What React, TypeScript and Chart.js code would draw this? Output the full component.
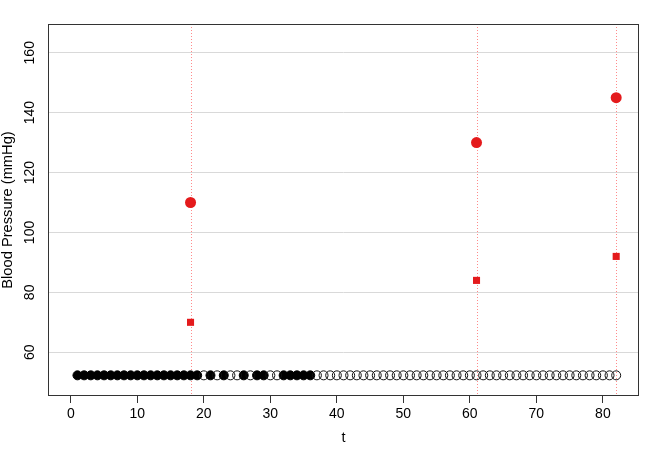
import React, { useEffect, useRef } from "react";
import { Chart, registerables } from "chart.js";

Chart.register(...registerables);

// ---- data ----
const timePoints = [
  1, 2, 3, 4, 5, 6, 7, 8, 9, 10, 11, 12, 13, 14, 15, 16, 17, 18, 19, 20,
  21, 22, 23, 24, 25, 26, 27, 28, 29, 30, 31, 32, 33, 34, 35, 36, 37, 38, 39, 40,
  41, 42, 43, 44, 45, 46, 47, 48, 49, 50, 51, 52, 53, 54, 55, 56, 57, 58, 59, 60,
  61, 62, 63, 64, 65, 66, 67, 68, 69, 70, 71, 72, 73, 74, 75, 76, 77, 78, 79, 80,
  81, 82,
];
// 1 = filled marker, 0 = open marker
const measuredFlag = [
  1, 1, 1, 1, 1, 1, 1, 1, 1, 1, 1, 1, 1, 1, 1, 1, 1, 1, 1, 0,
  1, 0, 1, 0, 0, 1, 0, 1, 1, 0, 0, 1, 1, 1, 1, 1, 0, 0, 0, 0,
  0, 0, 0, 0, 0, 0, 0, 0, 0, 0, 0, 0, 0, 0, 0, 0, 0, 0, 0, 0,
  0, 0, 0, 0, 0, 0, 0, 0, 0, 0, 0, 0, 0, 0, 0, 0, 0, 0, 0, 0,
  0, 0,
];
const baselineLevel = 52.3;

const eventTimes = [18, 61, 82];
const systolicBP = [110, 130, 145];
const diastolicBP = [70, 84, 92];

const xTicks = [0, 10, 20, 30, 40, 50, 60, 70, 80];
const yTicks = [60, 80, 100, 120, 140, 160];

const xLabel = "t";
const yLabel = "Blood Pressure (mmHg)";

const FONT = "'Liberation Sans', Arial, Helvetica, sans-serif";
const RED = "#E41A1C";

const decorPlugin = {
  id: "decor",
  beforeDatasetsDraw(chart: any) {
    const { ctx, chartArea, scales } = chart;
    ctx.save();
    ctx.strokeStyle = "rgba(255,60,60,0.6)";
    ctx.lineWidth = 1;
    ctx.setLineDash([1, 2]);
    eventTimes.forEach((t) => {
      const x = Math.round(scales.x.getPixelForValue(t)) + 0.5;
      ctx.beginPath();
      ctx.moveTo(x, chartArea.top);
      ctx.lineTo(x, chartArea.bottom);
      ctx.stroke();
    });
    ctx.restore();
  },
  afterDraw(chart: any) {
    const { ctx, chartArea, scales } = chart;
    ctx.save();
    // box
    ctx.strokeStyle = "#333";
    ctx.lineWidth = 1;
    ctx.strokeRect(
      Math.round(chartArea.left) - 0.5,
      Math.round(chartArea.top) + 0.5,
      Math.round(chartArea.right - chartArea.left) + 1,
      Math.round(chartArea.bottom - chartArea.top) - 1
    );
    // y tick labels (rotated)
    ctx.fillStyle = "#000";
    ctx.font = `14px ${FONT}`;
    ctx.textAlign = "center";
    ctx.textBaseline = "middle";
    yTicks.forEach((v) => {
      const y = scales.y.getPixelForValue(v);
      ctx.save();
      ctx.translate(30, y);
      ctx.rotate(-Math.PI / 2);
      ctx.fillText(String(v), 0, 0);
      ctx.restore();
    });
    // y title
    ctx.font = `14.7px ${FONT}`;
    ctx.save();
    ctx.translate(8, (chartArea.top + chartArea.bottom) / 2);
    ctx.rotate(-Math.PI / 2);
    ctx.fillText(yLabel, 0, 0);
    ctx.restore();
    ctx.restore();
  },
};

export default function App() {
  const canvasRef = useRef<HTMLCanvasElement | null>(null);

  useEffect(() => {
    if (!canvasRef.current) return;
    const filled = timePoints
      .filter((_, i) => measuredFlag[i] === 1)
      .map((t) => ({ x: t, y: baselineLevel }));
    const open = timePoints
      .filter((_, i) => measuredFlag[i] === 0)
      .map((t) => ({ x: t, y: baselineLevel }));
    const sys = eventTimes.map((t, i) => ({ x: t, y: systolicBP[i] }));
    const dia = eventTimes.map((t, i) => ({ x: t, y: diastolicBP[i] }));

    const chart = new Chart(canvasRef.current, {
      type: "scatter",
      data: {
        datasets: [
          {
            data: sys,
            pointStyle: "circle",
            pointRadius: 5.5,
            backgroundColor: RED,
            borderColor: RED,
            borderWidth: 0,
          },
          {
            data: dia,
            pointStyle: "rect",
            pointRadius: 5,
            backgroundColor: RED,
            borderColor: RED,
            borderWidth: 0,
          },
          {
            data: open,
            pointStyle: "circle",
            pointRadius: 4.5,
            backgroundColor: "rgba(0,0,0,0)",
            borderColor: "#111",
            borderWidth: 1,
          },
          {
            data: filled,
            pointStyle: "circle",
            pointRadius: 4.5,
            backgroundColor: "#000",
            borderColor: "#000",
            borderWidth: 1,
          },
        ],
      },
      options: {
        animation: false,
        responsive: false,
        devicePixelRatio: 1,
        layout: { padding: { top: 24, right: 25, left: 0, bottom: 0 } },
        plugins: {
          legend: { display: false },
          tooltip: { enabled: false },
        },
        scales: {
          x: {
            type: "linear",
            min: -3.28,
            max: 85.28,
            afterBuildTicks: (s: any) => {
              s.ticks = xTicks.map((v) => ({ value: v }));
            },
            afterFit: (s: any) => {
              s.height = 63;
            },
            grid: {
              display: true,
              drawOnChartArea: false,
              drawTicks: true,
              tickLength: 7,
              tickColor: "#333",
              tickWidth: 1,
            },
            border: { display: false },
            ticks: {
              autoSkip: false,
              maxRotation: 0,
              minRotation: 0,
              padding: 3,
              color: "#000",
              font: { family: FONT, size: 14 },
            },
            title: {
              display: true,
              text: xLabel,
              color: "#000",
              font: { family: FONT, size: 14.5 },
              padding: { top: 0, bottom: 12 },
            },
          },
          y: {
            type: "linear",
            min: 45.4,
            max: 169.6,
            afterBuildTicks: (s: any) => {
              s.ticks = yTicks.map((v) => ({ value: v }));
            },
            afterFit: (s: any) => {
              s.width = 49;
            },
            grid: {
              display: true,
              drawOnChartArea: true,
              drawTicks: false,
              color: "#D9D9D9",
              lineWidth: 1,
            },
            border: { display: false },
            ticks: { display: false },
          },
        },
      },
      plugins: [decorPlugin],
    });
    return () => chart.destroy();
  }, []);

  return (
    <div style={{ position: "absolute", left: 0, top: 0, width: 663, height: 459, background: "#fff" }}>
      <canvas ref={canvasRef} width={663} height={459} style={{ width: 663, height: 459 }} />
    </div>
  );
}
